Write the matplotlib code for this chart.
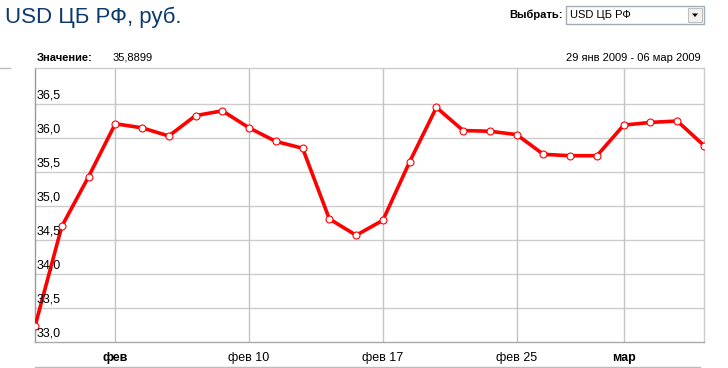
import matplotlib
matplotlib.use('Agg')
import matplotlib.pyplot as plt
from matplotlib.lines import Line2D
from matplotlib.patches import Rectangle, Polygon

plt.rcParams['font.family'] = ['Liberation Sans', 'DejaVu Sans']

# курс USD ЦБ РФ, 29 янв 2009 - 06 мар 2009
values = [33.23, 34.70, 35.43, 36.21, 36.15, 36.03, 36.33, 36.40, 36.15,
          35.95, 35.85, 34.81, 34.57, 34.79, 35.65, 36.45, 36.11, 36.10,
          36.05, 35.76, 35.74, 35.74, 36.19, 36.23, 36.25, 35.89]
ytick_vals = [33.0, 33.5, 34.0, 34.5, 35.0, 35.5, 36.0, 36.5]
ytick_labels = ['33,0', '33,5', '34,0', '34,5', '35,0', '35,5', '36,0', '36,5']
xtick_idx = [3, 8, 13, 18, 22]
xtick_labels = ['фев', 'фев 10', 'фев 17', 'фев 25', 'мар']
xtick_bold = [True, False, False, False, True]

W, H = 728, 368
fig = plt.figure(figsize=(W / 100, H / 100), dpi=100)

def px(x0, y0, x1, y1):
    return [x0 / W, 1 - y1 / H, (x1 - x0) / W, (y1 - y0) / H]

ax = fig.add_axes(px(35, 68, 704, 342))
x = list(range(len(values)))
ax.plot(x, values, color='#ff0000', lw=2.6, marker='o', ms=5,
        mfc='white', mec='#ff0000', mew=0.8, zorder=3)
ax.set_xlim(0, len(values) - 1)
ax.set_ylim(33.0, 37.03)

for v, lab in zip(ytick_vals, ytick_labels):
    if v > 33:
        ax.axhline(v, color='#cccccc', lw=1, zorder=1)
    ax.text(2 / 669, v + 0.04, lab, transform=ax.get_yaxis_transform(),
            ha='left', va='bottom', fontsize=9, color='black')
for i in xtick_idx:
    ax.axvline(i, color='#c4c4c4', lw=1, zorder=1)

ax.set_yticks([])
ax.set_xticks(xtick_idx)
ax.set_xticklabels(xtick_labels, fontsize=9)
for t, b in zip(ax.get_xticklabels(), xtick_bold):
    if b:
        t.set_fontweight('bold')
ax.tick_params(axis='x', length=0, pad=7)

ax.spines['left'].set_color('#999999')
ax.spines['bottom'].set_color('#aaaaaa')
ax.spines['top'].set_color('#cccccc')
ax.spines['right'].set_color('#cccccc')
for s in ax.spines.values():
    s.set_linewidth(1)

# заголовок и подписи
fig.text(5 / W, 1 - 17 / H, 'USD ЦБ РФ, руб.', fontsize=16, color='#0d3a6e',
         ha='left', va='center')
fig.text(37 / W, 1 - 58 / H, 'Значение:', fontsize=8, fontweight='bold',
         ha='left', va='center')
fig.text(113 / W, 1 - 58 / H, '35,8899', fontsize=8, ha='left', va='center')
fig.text(701 / W, 1 - 58 / H, '29 янв 2009 - 06 мар 2009', fontsize=8,
         ha='right', va='center')

# выбор
fig.text(563 / W, 1 - 15 / H, 'Выбрать:', fontsize=8, fontweight='bold',
         ha='right', va='center')
fig.patches.append(Rectangle((566 / W, 1 - 24 / H), 138 / W, 18 / H,
                             transform=fig.transFigure, fc='white',
                             ec='#a5acb5', lw=1))
fig.text(570 / W, 1 - 15 / H, 'USD ЦБ РФ', fontsize=8, ha='left', va='center')
fig.patches.append(Rectangle((688 / W, 1 - 22 / H), 14 / W, 14 / H,
                             transform=fig.transFigure, fc='#f0f0f0',
                             ec='#c0c0c0', lw=0.8))
fig.patches.append(Polygon([(692 / W, 1 - 13.5 / H), (698 / W, 1 - 13.5 / H),
                            (695 / W, 1 - 17 / H)], closed=True,
                           transform=fig.transFigure, fc='black', ec='none'))

# линии оформления
fig.lines.append(Line2D([35 / W, 700 / W], [1 - 367 / H, 1 - 367 / H],
                        transform=fig.transFigure, color='#bbbbbb', lw=1))
fig.lines.append(Line2D([0, 10 / W], [1 - 68 / H, 1 - 68 / H],
                        transform=fig.transFigure, color='#bbbbbb', lw=1))

fig.savefig('out.png', dpi=100)
